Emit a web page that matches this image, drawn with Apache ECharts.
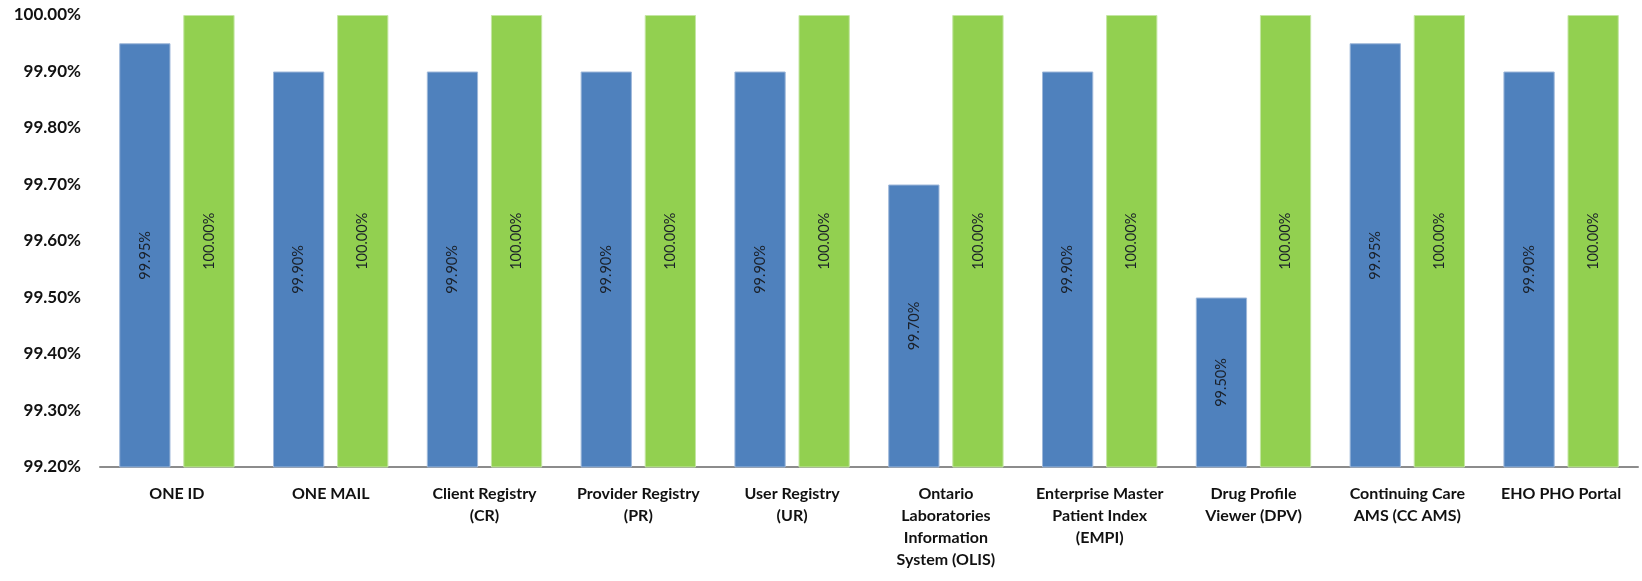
<!DOCTYPE html>
<html>
<head>
<meta charset="utf-8">
<script src="https://cdn.jsdelivr.net/npm/echarts@6/dist/echarts.min.js"></script>
<style>
html,body{margin:0;padding:0;background:#fff;}
#c{width:1642px;height:581px;}
</style>
</head>
<body>
<div id="c"></div>
<script>
var categories = [
  "ONE ID",
  "ONE MAIL",
  "Client Registry\n(CR)",
  "Provider Registry\n(PR)",
  "User Registry\n(UR)",
  "Ontario\nLaboratories\nInformation\nSystem (OLIS)",
  "Enterprise Master\nPatient Index\n(EMPI)",
  "Drug Profile\nViewer (DPV)",
  "Continuing Care\nAMS (CC AMS)",
  "EHO PHO Portal"
];
var actual = [99.95, 99.90, 99.90, 99.90, 99.90, 99.70, 99.90, 99.50, 99.95, 99.90];
var target = [100.00, 100.00, 100.00, 100.00, 100.00, 100.00, 100.00, 100.00, 100.00, 100.00];
var yMin = 99.2, yMax = 100.0, yStep = 0.1;

var chart = echarts.init(document.getElementById('c'), null, {renderer: 'canvas'});
var labelCfg = {
  show: true,
  position: 'inside',
  rotate: 90,
  color: '#1a2029',
  fontFamily: 'Lato, "Open Sans", sans-serif',
  fontSize: 14.5,
  formatter: function (p) { return p.value.toFixed(2) + '%'; }
};
chart.setOption({
  animation: false,
  grid: {left: 100, right: 4, top: 15, bottom: 114, containLabel: false},
  xAxis: {
    type: 'category',
    data: categories,
    axisLine: {show: true, lineStyle: {color: '#8c8c8c', width: 2}},
    axisTick: {show: false},
    axisLabel: {
      interval: 0,
      margin: 16,
      color: '#111',
      fontFamily: 'Lato, "Open Sans", sans-serif',
      fontWeight: 'bold',
      fontSize: 16,
      lineHeight: 22
    }
  },
  yAxis: {
    type: 'value',
    min: yMin,
    max: yMax,
    interval: yStep,
    axisLine: {show: false},
    axisTick: {show: false},
    splitLine: {show: false},
    axisLabel: {
      margin: 19,
      color: '#111',
      fontFamily: 'Lato, "Open Sans", sans-serif',
      fontWeight: 'bold',
      fontSize: 17,
      formatter: function (v) { return v.toFixed(2) + '%'; }
    }
  },
  series: [
    {
      type: 'bar',
      name: 'Actual',
      data: actual,
      barGap: '25%',
      barCategoryGap: '25%',
      itemStyle: {color: '#4f81bd', borderColor: '#9fb8da', borderWidth: 1},
      label: labelCfg
    },
    {
      type: 'bar',
      name: 'Target',
      data: target,
      itemStyle: {color: '#92d050', borderColor: '#c4e6a3', borderWidth: 1},
      label: labelCfg
    }
  ]
});
</script>
</body>
</html>
